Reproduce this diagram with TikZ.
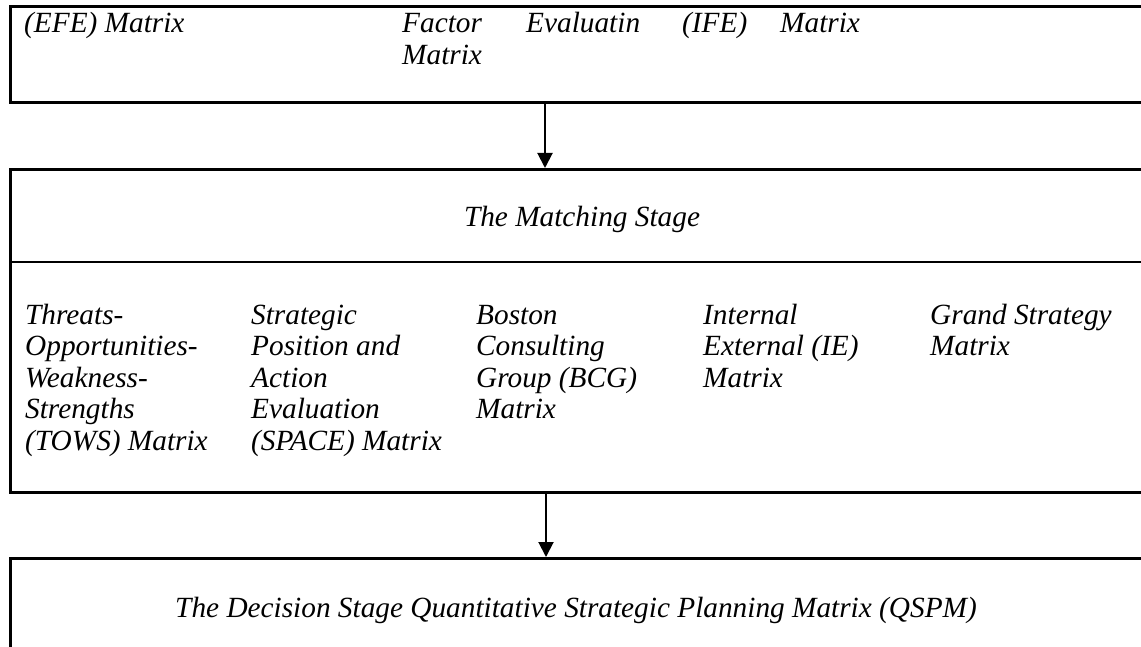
\documentclass[tikz,border=0pt]{standalone}
\usepackage{fontspec}
\setmainfont{Liberation Serif}
\usetikzlibrary{arrows.meta}
\newcommand{\cellstack}[1]{\begin{tabular}[t]{@{}l@{}}#1\end{tabular}}
\begin{document}
\begin{tikzpicture}[x=1pt,y=-1pt,
  frame/.style={draw,line width=2.6pt,inner sep=0pt,anchor=north west},
  conn/.style={line width=2pt,-{Triangle[width=15pt,length=15pt]}},
  txt/.style={anchor=base west,inner sep=0pt,font=\fontsize{29.3}{31.5}\selectfont\itshape},
  ctxt/.style={anchor=base,inner sep=0pt,font=\fontsize{29.3}{31.5}\selectfont\itshape}]
\useasboundingbox (0,0) rectangle (1141,647);
\clip (0,0) rectangle (1141,647);
% boxes
\node[frame,minimum width=1150pt,minimum height=96pt] (top) at (9,5) {};
\node[frame,minimum width=1150pt,minimum height=323pt] (mid) at (9,168) {};
\node[frame,minimum width=1150pt,minimum height=150pt] (bot) at (9,557) {};
\coordinate (divy) at (0,262);
\draw[line width=2.6pt] (mid.west |- divy) -- (mid.east |- divy);
% connectors
\coordinate (ax1) at (545,0);
\coordinate (ax2) at (546,0);
\draw[conn] (top.south -| ax1) -- (mid.north -| ax1);
\draw[conn] (mid.south -| ax2) -- (bot.north -| ax2);
% top box text
\node[txt] (efe) at (24,33) {(EFE) Matrix};
\node[txt] (fac) at (402,33) {Factor};
\node[txt] (eva) at (526,33) {Evaluatin};
\node[txt] (ife) at (682,33) {(IFE)};
\node[txt] (mtx) at (780,33) {Matrix};
\node[txt] (mtx2) at (402,64.5) {Matrix};
% matching stage
\node[ctxt] (match) at (582,227) {The Matching Stage};
\node[txt] (c1) at (25,324) {\cellstack{Threats-\\Opportunities-\\Weakness-\\Strengths\\(TOWS) Matrix}};
\node[txt] (c2) at (251,324) {\cellstack{Strategic\\Position and\\Action\\Evaluation\\(SPACE) Matrix}};
\node[txt] (c3) at (476,324) {\cellstack{Boston\\Consulting\\Group (BCG)\\Matrix}};
\node[txt] (c4) at (703,324) {\cellstack{Internal\\External (IE)\\Matrix}};
\node[txt] (c5) at (930,324) {\cellstack{Grand Strategy\\Matrix}};
% decision stage
\node[ctxt] (dec) at (576,617) {The Decision Stage Quantitative Strategic Planning Matrix (QSPM)};
\end{tikzpicture}
\end{document}
